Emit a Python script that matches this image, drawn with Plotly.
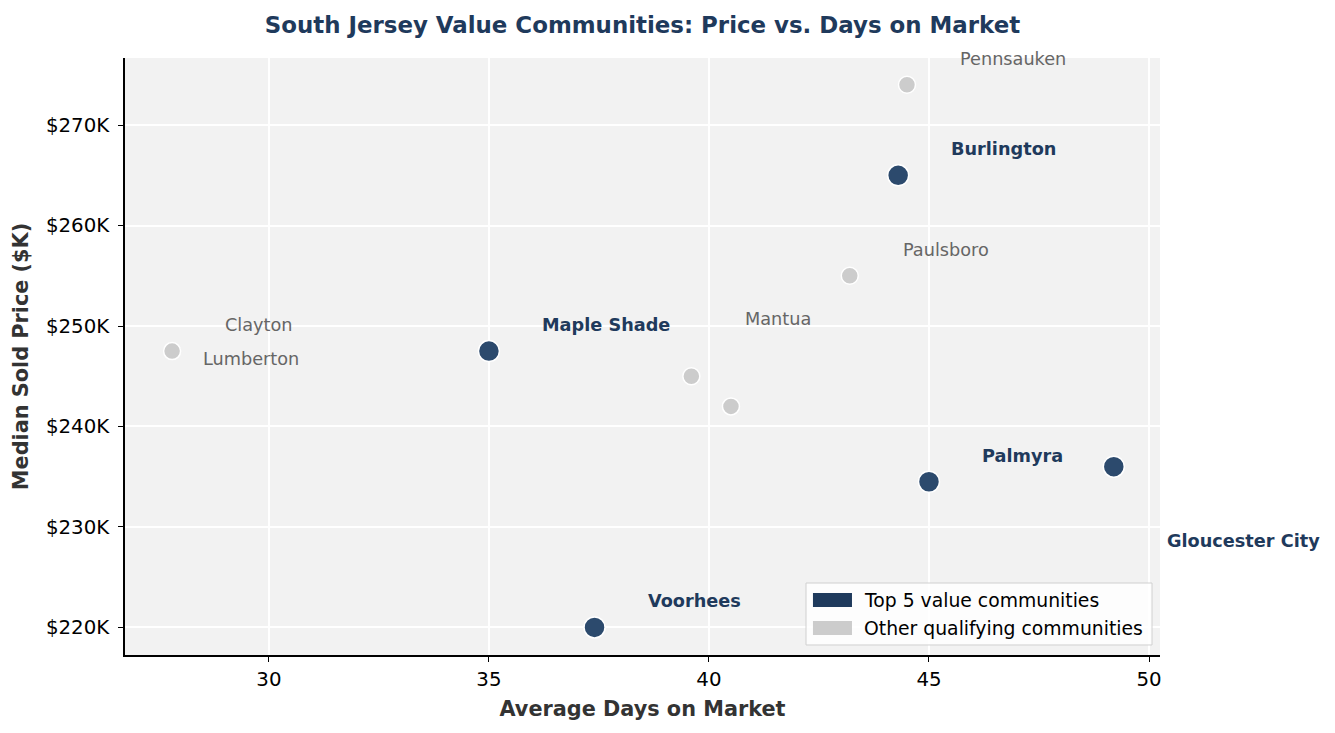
import plotly.graph_objects as go

# Top 5 value communities
top_names = ["Burlington", "Maple Shade", "Palmyra", "Gloucester City", "Voorhees"]
top_days = [44.3, 35.0, 45.0, 49.2, 37.4]
top_price = [265.0, 247.5, 234.5, 236.0, 220.0]

# Other qualifying communities
other_names = ["Pennsauken", "Paulsboro", "Clayton", "Lumberton", "Mantua"]
other_days = [44.5, 43.2, 27.8, 39.6, 40.5]
other_price = [274.0, 255.0, 247.5, 245.0, 242.0]

x_ticks = [30, 35, 40, 45, 50]
y_ticks = [220, 230, 240, 250, 260, 270]
y_tick_labels = ["$220K", "$230K", "$240K", "$250K", "$260K", "$270K"]

# label offsets in pixels (x, y) from each point, as placed in the reference
top_shift = [(51, 26), (51, 26), (51, 26), (51, -74), (51, 26)]
other_shift = [(51, 26), (51, 26), (51, 26), (-490, 17), (12, 87)]

DARK = "#1f3a5c"
DARK_PT = "#2c4a6d"
GREY = "#cccccc"
FONT = "DejaVu Sans"

fig = go.Figure()

fig.add_trace(go.Scatter(
    x=other_days, y=other_price, mode="markers", name="Other qualifying communities",
    marker=dict(color=GREY, size=17, line=dict(color="white", width=1.5)),
    text=other_names, hovertemplate="%{text}<br>%{x} days, $%{y}K<extra></extra>",
    showlegend=False,
))
fig.add_trace(go.Scatter(
    x=top_days, y=top_price, mode="markers", name="Top 5 value communities",
    marker=dict(color=DARK_PT, size=21, line=dict(color="white", width=1.5)),
    text=top_names, hovertemplate="%{text}<br>%{x} days, $%{y}K<extra></extra>",
    showlegend=False,
))

annotations = []
for name, x, y, (dx, dy) in zip(other_names, other_days, other_price, other_shift):
    annotations.append(dict(
        x=x, y=y, xref="x", yref="y", text=name, showarrow=False,
        xanchor="left", yanchor="middle", xshift=dx, yshift=dy,
        font=dict(family=FONT, size=17.7, color="#666666"),
    ))
for name, x, y, (dx, dy) in zip(top_names, top_days, top_price, top_shift):
    annotations.append(dict(
        x=x, y=y, xref="x", yref="y", text="<b>%s</b>" % name, showarrow=False,
        xanchor="left", yanchor="middle", xshift=dx, yshift=dy,
        font=dict(family=FONT, size=17.7, color=DARK),
    ))

# legend drawn by hand to get matplotlib-style rectangle patches
legend_items = [("Top 5 value communities", DARK), ("Other qualifying communities", GREY)]
shapes = [dict(
    type="rect", xref="paper", yref="paper", x0=0.658, x1=0.9923, y0=0.0168, y1=0.1206,
    fillcolor="rgba(255,255,255,0.8)", line=dict(color="#d0d0d0", width=1), layer="above",
)]
for i, (label, col) in enumerate(legend_items):
    yc = 0.0921 - i * 0.0469
    shapes.append(dict(
        type="rect", xref="paper", yref="paper", x0=0.6647, x1=0.7024,
        y0=yc - 0.0117, y1=yc + 0.0117, fillcolor=col, line=dict(width=0), layer="above",
    ))
    annotations.append(dict(
        x=0.712, y=yc, xref="paper", yref="paper", text=label, showarrow=False,
        xanchor="left", yanchor="middle",
        font=dict(family=FONT, size=18.8, color="black"),
    ))

# the page body adds an 8px offset, so the figure is drawn 8px smaller
fig.update_layout(
    width=1327, height=725,
    margin=dict(l=117, r=175, t=50, b=78),
    paper_bgcolor="white",
    plot_bgcolor="#f2f2f2",
    font=dict(family=FONT, size=19.8, color="black"),
    title=dict(
        text="<b>South Jersey Value Communities: Price vs. Days on Market</b>",
        x=0.4781, xanchor="center", y=0.9766, yanchor="middle",
        font=dict(family=FONT, size=22.9, color=DARK),
    ),
    xaxis=dict(
        range=[26.73, 50.25], tickvals=x_ticks, ticks="outside", ticklen=5, tickwidth=1.2,
        tickcolor="black", showline=True, linecolor="black", linewidth=1.5,
        gridcolor="white", gridwidth=1.5, zeroline=False,
        title=dict(text="<b>Average Days on Market</b>", standoff=12,
                   font=dict(family=FONT, size=20.8, color="#333333")),
    ),
    yaxis=dict(
        range=[217.26, 276.67], tickvals=y_ticks, ticktext=y_tick_labels,
        ticks="outside", ticklen=5, tickwidth=1.2, tickcolor="black",
        ticklabelstandoff=5,
        showline=True, linecolor="black", linewidth=1.5,
        gridcolor="white", gridwidth=1.5, zeroline=False,
        title=dict(text="<b>Median Sold Price ($K)</b>", standoff=12,
                   font=dict(family=FONT, size=20.8, color="#333333")),
    ),
    annotations=annotations,
    shapes=shapes,
    showlegend=False,
)

fig.write_html("out.html")
